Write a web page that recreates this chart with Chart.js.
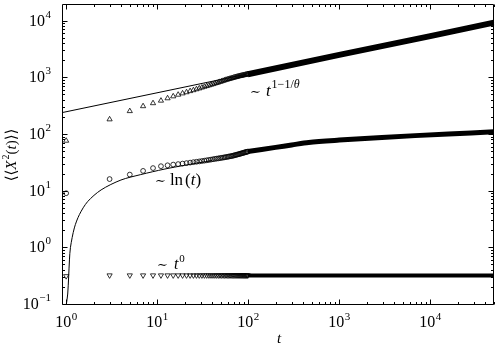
<!DOCTYPE html>
<html>
<head>
<meta charset="utf-8">
<script src="https://cdn.jsdelivr.net/npm/chart.js@4.4.0/dist/chart.umd.min.js"></script>
<style>
html,body{margin:0;padding:0;background:#fff}
</style>
</head>
<body>
<canvas id="c" width="499" height="345"></canvas>
<script>
// times where single markers are still visible
const tMarks=[1,3,5,7,9,11,13,15,17,19,21,23,25,27,29,31,33,35,37,39,41,43,45,47,49,51,53,55,57,59,
  61,63,65,67,69,71,73,75,77,79,81,83,85,87,89,91,93,95,97,99]
const upVals=[76,181,253,309,349,387,426,461,493,520,545,570,592,615,637,659,681,700,720,739,758,777,795,813,831,849,867,885,903,917,
  930,945,958,972,985,997,1009,1021,1033,1044,1054,1063,1072,1081,1090,1099,1108,1117,1125,1133]
const circVals=[9.0,16,19.2,22.3,25,27,28,28.8,29.4,30,30.6,31.2,31.8,32.3,32.8,33.3,33.8,34.3,34.8,35.3,35.8,36.3,36.7,37.1,37.5,37.9,38.3,38.7,39.1,39.5,
  39.9,40.3,40.7,41.1,41.6,42.1,42.6,43.1,43.6,44.1,44.6,45.1,45.6,46.1,46.6,47.1,47.6,48.1,48.5,48.9]
const downVals=[0.31,0.32,0.32,0.32,0.32,0.32,0.32,0.32,0.32,0.32,0.32,0.32,0.32,0.32,0.32,0.32,0.32,0.32,0.32,0.32,0.32,0.32,0.32,0.32,0.32,0.32,0.32,0.32,0.32,0.32,
  0.32,0.32,0.32,0.32,0.32,0.32,0.32,0.32,0.32,0.32,0.32,0.32,0.32,0.32,0.32,0.32,0.32,0.32,0.32,0.32]

// dense part, markers overlap into a band
const upBandT=[99,1000,10000,50000]
const upBandY=[1133,2480,5330,9200]
const circBandT=[99,200,300,462,1000,2940,15800,50000]
const circBandY=[48.9,58,64,71,78,87,100,109]
const downBandT=[99,50000]
const downBandY=[0.318,0.318]

// guide curves
const powT=[0.9,50400]
const powY=[238,9250]
const lnT=[1.0,1.04,1.087,1.115,1.23,1.4,1.72,2.42,4.0,6.6,11.9,20,40]
const lnY=[0.095,0.15,0.6,1.0,2.2,3.8,6.4,10.3,15.4,19.2,23.9,28,34]

const xTicks=[1,10,100,1000,10000]
const xExp=['0','1','2','3','4']
const yTicks=[0.1,1,10,100,1000,10000]
const yExp=['\u22121','0','1','2','3','4']

function pts(xs,ys){return xs.map((x,i)=>({x:x,y:ys[i]}))}

const SERIF='"Liberation Serif","DejaVu Serif",serif'

function runs(ctx,x,y,list){
  let cx=x
  for(const r of list){
    ctx.font=r.font
    ctx.fillText(r.text,cx,y+(r.dy||0))
    cx+=ctx.measureText(r.text).width+(r.gap||0)
  }
  return cx
}
function runsWidth(ctx,list){
  let w=0
  for(const r of list){ctx.font=r.font;w+=ctx.measureText(r.text).width+(r.gap||0)}
  return w
}

const frame={
  id:'frame',
  afterDraw(chart){
    const ctx=chart.ctx,a=chart.chartArea,xs=chart.scales.x,ys=chart.scales.y
    const L=Math.round(a.left)+0.5,R=Math.round(a.right)-0.5,T=Math.round(a.top)-0.5,B=Math.round(a.bottom)+0.5
    ctx.save()
    ctx.strokeStyle='#000'
    ctx.lineWidth=1
    ctx.beginPath()
    ctx.rect(L,T,R-L,B-T)
    // x ticks, inside, bottom and top
    for(let k=0;k<=4;k++){
      for(let m=1;m<=9;m++){
        const v=m*Math.pow(10,k)
        if(v<xs.min||v>xs.max) continue
        const p=Math.round(xs.getPixelForValue(v))+0.5
        const len=m==1?5:2.5
        ctx.moveTo(p,B);ctx.lineTo(p,B-len)
        ctx.moveTo(p,T);ctx.lineTo(p,T+len)
      }
    }
    for(let k=-1;k<=4;k++){
      for(let m=1;m<=9;m++){
        const v=m*Math.pow(10,k)
        if(v<ys.min||v>ys.max) continue
        const p=Math.round(ys.getPixelForValue(v))+0.5
        const len=m==1?5:2.5
        ctx.moveTo(L,p);ctx.lineTo(L+len,p)
        ctx.moveTo(R,p);ctx.lineTo(R-len,p)
      }
    }
    ctx.stroke()

    ctx.fillStyle='#000'
    ctx.textBaseline='alphabetic'
    ctx.textAlign='left'
    const big='16px '+SERIF, small='11px '+SERIF
    xTicks.forEach((v,i)=>{
      const p=xs.getPixelForValue(v)
      const list=[{text:'10',font:big,gap:0.5},{text:xExp[i],font:small,dy:-7}]
      const w=runsWidth(ctx,list)
      runs(ctx,p-w/2,327,list)
    })
    yTicks.forEach((v,i)=>{
      const p=ys.getPixelForValue(v)
      const list=[{text:'10',font:big,gap:0.5},{text:yExp[i],font:small,dy:-8}]
      const w=runsWidth(ctx,list)
      runs(ctx,51-w,p+5,list)
    })

    // axis titles
    const it='italic 15px '+SERIF, up='15px '+SERIF
    ctx.save()
    ctx.translate(16,155)
    ctx.rotate(-Math.PI/2)
    const yl=[{text:'\u27E8\u27E8',font:up},{text:'X',font:it,gap:1},{text:'2',font:'10px '+SERIF,dy:-7},{text:'(',font:up},{text:'t',font:it},{text:')\u27E9\u27E9',font:up}]
    runs(ctx,-runsWidth(ctx,yl)/2,0,yl)
    ctx.restore()
    ctx.font=it
    ctx.textAlign='center'
    ctx.fillText('t',279,343)
    ctx.textAlign='left'

    // annotations
    const an='17px '+SERIF, ani='italic 17px '+SERIF
    runs(ctx,250,96,[{text:'\u223C',font:'13px '+SERIF,gap:5},{text:'t',font:ani,gap:1},{text:'1\u22121/',font:'12px '+SERIF,dy:-8},{text:'\u03B8',font:'italic 12px '+SERIF,dy:-8}])
    runs(ctx,155,185,[{text:'\u223C',font:'13px '+SERIF,gap:4},{text:'ln',font:an,gap:2},{text:'(',font:an},{text:'t',font:ani},{text:')',font:an}])
    runs(ctx,157,269,[{text:'\u223C',font:'13px '+SERIF,gap:6},{text:'t',font:'italic 16px '+SERIF,gap:1},{text:'0',font:small,dy:-7}])
    ctx.restore()
  }
}

const mark={showLine:false,borderColor:'#000',backgroundColor:'rgba(0,0,0,0)',pointBorderWidth:0.8}
const band={showLine:true,pointRadius:0,borderColor:'#000',borderCapStyle:'butt',borderJoinStyle:'round'}

new Chart('c',{
  type:'scatter',
  data:{
    datasets:[
      Object.assign({data:pts(tMarks,upVals),pointStyle:'triangle',pointRadius:3},mark),
      Object.assign({data:pts(tMarks,circVals),pointStyle:'circle',pointRadius:2.4},mark),
      Object.assign({data:pts(tMarks,downVals),pointStyle:'triangle',pointRotation:180,pointRadius:3},mark),
      Object.assign({data:pts(upBandT,upBandY),borderWidth:6},band),
      Object.assign({data:pts(circBandT,circBandY),borderWidth:5,tension:0.3},band),
      Object.assign({data:pts(downBandT,downBandY),borderWidth:4},band),
      Object.assign({data:pts(powT,powY),borderWidth:1},band),
      Object.assign({data:pts(lnT,lnY),borderWidth:1,tension:0.3},band)
    ]
  },
  options:{
    responsive:false,
    animation:false,
    events:[],
    layout:{padding:{left:62,right:3,top:1,bottom:41}},
    plugins:{legend:{display:false},tooltip:{enabled:false}},
    scales:{
      x:{type:'logarithmic',min:0.9,max:50400,display:false},
      y:{type:'logarithmic',min:0.1,max:19000,display:false}
    }
  },
  plugins:[frame]
})
</script>
</body>
</html>
